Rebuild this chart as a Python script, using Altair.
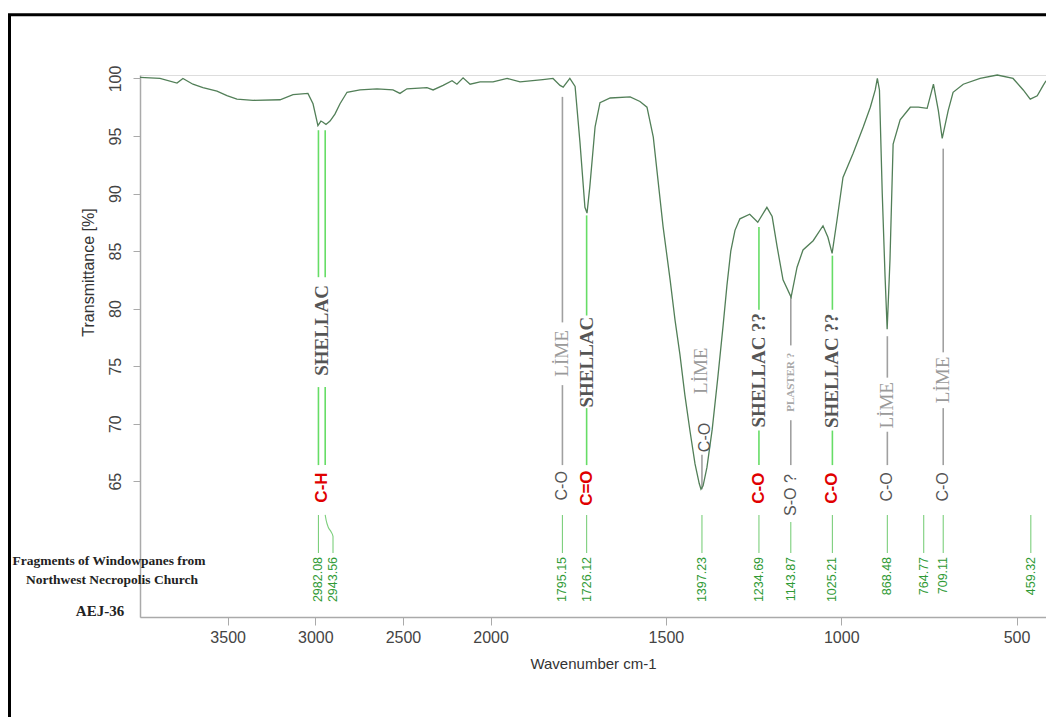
import altair as alt
import pandas as pd

# ---------------- spectrum (wavenumber cm-1, transmittance %) ----------------
wn = [4000, 3886, 3789, 3755, 3698, 3641, 3561, 3504, 3447, 3355, 3201, 3127,
      3042, 3013, 2985, 2968, 2956, 2939, 2916, 2888, 2859, 2819, 2745, 2648,
      2557, 2517, 2477, 2363, 2328, 2271, 2220, 2192, 2157, 2117, 2060, 1993,
      1953, 1916, 1851, 1822, 1802, 1793, 1774, 1759, 1745, 1731, 1725, 1717,
      1702, 1688, 1659, 1602, 1574, 1554, 1536, 1508, 1488, 1474, 1460, 1446,
      1431, 1417, 1405, 1400, 1394, 1383, 1368, 1352, 1337, 1326, 1315, 1303,
      1289, 1261, 1238, 1212, 1197, 1183, 1166, 1143, 1126, 1109, 1080, 1052,
      1038, 1026, 1012, 995, 966, 937, 917, 903, 897, 891, 883, 875, 869,
      861, 852, 832, 803, 780, 755, 737, 723, 712, 695, 681, 652, 604, 555,
      510, 481, 461, 441, 424, 416]
tr = [100.1, 100.0, 99.6, 100.0, 99.5, 99.2, 98.9, 98.5, 98.2, 98.1, 98.15, 98.6,
      98.7, 97.8, 95.9, 96.3, 96.2, 96.0, 96.3, 96.9, 97.8, 98.8, 99.0, 99.1,
      99.0, 98.7, 99.1, 99.2, 99.0, 99.4, 99.8, 99.5, 100.05, 99.5, 99.7, 99.7,
      100.0, 99.7, 99.9, 100.0, 99.4, 99.25, 100.0, 99.3, 94.4, 88.8, 88.3, 90.6,
      95.8, 97.9, 98.3, 98.4, 98.0, 97.5, 94.9, 87.1, 82.5, 79.0, 76.0, 72.5,
      69.3, 66.5, 64.8, 64.3, 64.6, 66.2, 69.5, 74.0, 78.5, 82.0, 85.0, 86.8,
      87.8, 88.2, 87.5, 88.8, 88.0, 85.4, 82.5, 81.0, 83.6, 85.1, 85.9, 87.2,
      86.2, 84.8, 87.7, 91.4, 93.5, 95.8, 97.5, 99.0, 100.0, 99.0, 90.0, 82.8, 78.2,
      84.2, 94.3, 96.4, 97.5, 97.5, 97.4, 99.5, 97.2, 94.8, 97.2, 98.8, 99.5, 100.0, 100.3,
      100.0, 99.0, 98.2, 98.5, 99.4, 99.8]

# ---------------- peak annotations ----------------
peak_text = ["2982.08", "2943.56", "1795.15", "1726.12", "1397.23", "1234.69",
             "1143.87", "1025.21", "868.48", "764.77", "709.11", "459.32"]
peak_text_wn = [2982.08, 2899.0, 1795.15, 1726.12, 1397.23, 1234.69, 1143.87,
                1025.21, 868.48, 764.77, 709.11, 459.32]

# upper connector segments (wavenumber, from %T, to %T)
green_seg_wn = [2982.08, 2982.08, 2943.56, 2943.56, 1726.12, 1726.12,
                1234.69, 1234.69, 1025.21, 1025.21]
green_seg_t1 = [95.5, 73.18, 95.5, 73.18, 88.1, 71.35, 87.1, 69.4, 84.6, 69.4]
green_seg_t2 = [82.73, 66.4, 82.73, 66.4, 79.4, 66.4, 79.9, 66.4, 79.9, 66.4]

gray_seg_wn = [1795.15, 1795.15, 1143.87, 1143.87, 868.48, 868.48, 709.11, 709.11, 1397.23]
gray_seg_t1 = [98.4, 73.35, 81.2, 70.3, 77.6, 69.3, 93.9, 71.35, 67.3]
gray_seg_t2 = [78.8, 66.4, 76.8, 66.4, 74.0, 66.4, 76.2, 66.4, 64.3]

# lower connector segments
low_wn = [2982.08, 1795.15, 1726.12, 1397.23, 1234.69, 1143.87, 1025.21,
          868.48, 764.77, 709.11, 459.32]
low_t1 = [62.07, 62.07, 62.07, 62.07, 62.07, 61.46, 62.07, 62.07, 62.07, 62.07, 62.07]
low_t2 = [58.77] * 11

# bent leader for 2943.56
bend_wn = [2943.56, 2938.0, 2926.0, 2910.0, 2899.0, 2899.0]
bend_t = [62.07, 61.6, 61.0, 60.6, 60.2, 58.77]

# material labels
shellac_text = ["SHELLAC", "SHELLAC", "SHELLAC ??", "SHELLAC ??"]
shellac_wn = [2962.0, 1726.12, 1234.69, 1025.21]
shellac_t = [78.1, 75.35, 74.65, 74.6]

lime_text = ["LİME", "LİME", "LİME", "LİME"]
lime_wn = [1795.15, 1400.0, 868.48, 709.11]
lime_t = [76.1, 74.6, 71.6, 73.8]

plaster_text = ["PLASTER ?"]
plaster_wn = [1143.87]
plaster_t = [73.6]

# functional group labels
red_text = ["C-H", "C=O", "C-O", "C-O"]
red_wn = [2962.0, 1726.12, 1234.69, 1025.21]
red_t = [64.45, 64.4, 64.4, 64.4]

gray_text = ["C-O", "C-O", "S-O ?", "C-O", "C-O"]
gray_wn = [1795.15, 1389.0, 1143.87, 868.48, 709.11]
gray_t = [64.6, 68.8, 63.8, 64.5, 64.5]

sample_lines = ["Fragments of Windowpanes from", "Northwest Necropolis Church", "AEJ-36"]

x_ticks = [3500, 3000, 2500, 2000, 1500, 1000, 500]
y_ticks = [65, 70, 75, 80, 85, 90, 95, 100]

# ---------------- scales / encodings ----------------
xscale = alt.Scale(domain=[4000, 2000, 416], range=[0, 350.6, 906], nice=False, zero=False)
yscale = alt.Scale(domain=[53.2, 100.3], nice=False, zero=False)

xaxis = alt.Axis(values=x_ticks, title="Wavenumber cm-1", grid=False, labelFont="Liberation Sans",
                 labelFontSize=16, labelColor="#444444", tickColor="#aaaaaa", tickSize=8,
                 domainColor="#aaaaaa", domainWidth=1.5, labelPadding=4, titleFont="Liberation Sans",
                 titleFontSize=15, titleFontWeight="normal", titleColor="#333333",
                 titleY=46, titleBaseline="middle", format="d")
yaxis = alt.Axis(values=y_ticks, title="Transmittance [%]", grid=False, labelFont="Liberation Sans",
                 labelFontSize=16, labelColor="#444444", labelAngle=270, labelAlign="center",
                 labelBaseline="bottom", tickColor="#aaaaaa", tickSize=7, labelPadding=10,
                 domainColor="#aaaaaa", domainWidth=1.5, titleFont="Liberation Sans",
                 titleFontSize=16, titleFontWeight="normal", titleColor="#333333",
                 titleAngle=270, titleX=-52, titleY=197, titleAlign="center",
                 titleBaseline="middle", format="d")

X = alt.X("wn:Q", scale=xscale, axis=xaxis)
Y = alt.Y("T:Q", scale=yscale, axis=yaxis)

spec = pd.DataFrame({"wn": wn, "T": tr})
line = alt.Chart(spec).mark_line(color="#527f58", strokeWidth=1.3).encode(x=X, y=Y, order="idx:Q") \
    .transform_window(idx="row_number()")

gdf = pd.DataFrame({"wn": green_seg_wn, "T": green_seg_t1, "T2": green_seg_t2})
green_rules = alt.Chart(gdf).mark_rule(color="#66dd66", strokeWidth=1.6).encode(x=X, y=Y, y2="T2:Q")

ydf = pd.DataFrame({"wn": gray_seg_wn, "T": gray_seg_t1, "T2": gray_seg_t2})
gray_rules = alt.Chart(ydf).mark_rule(color="#a0a0a0", strokeWidth=1.6).encode(x=X, y=Y, y2="T2:Q")

ldf = pd.DataFrame({"wn": low_wn, "T": low_t1, "T2": low_t2})
low_rules = alt.Chart(ldf).mark_rule(color="#7ccf7c", strokeWidth=1.1).encode(x=X, y=Y, y2="T2:Q")

bdf = pd.DataFrame({"wn": bend_wn, "T": bend_t, "i": list(range(len(bend_wn)))})
bend = alt.Chart(bdf).mark_line(color="#7ccf7c", strokeWidth=1.1, interpolate="monotone").encode(
    x=X, y=Y, order="i:Q")

ndf = pd.DataFrame({"wn": peak_text_wn, "T": [58.42] * len(peak_text), "lab": peak_text})
num_text = alt.Chart(ndf).mark_text(angle=270, align="right", baseline="middle",
                                    font="Liberation Sans", fontSize=12.5, color="#2f9a35").encode(
    x=X, y=Y, text="lab:N")

sdf = pd.DataFrame({"wn": shellac_wn, "T": shellac_t, "lab": shellac_text})
shellac = alt.Chart(sdf).mark_text(angle=270, align="center", baseline="middle", font="Liberation Serif",
                                   fontSize=19, fontWeight="bold", color="#555555").encode(
    x=X, y=Y, text="lab:N")

lmdf = pd.DataFrame({"wn": lime_wn, "T": lime_t, "lab": lime_text})
lime = alt.Chart(lmdf).mark_text(angle=270, align="center", baseline="middle", font="Liberation Serif",
                                 fontSize=19, color="#9a9a9a").encode(x=X, y=Y, text="lab:N")

pdf_ = pd.DataFrame({"wn": plaster_wn, "T": plaster_t, "lab": plaster_text})
plaster = alt.Chart(pdf_).mark_text(angle=270, align="center", baseline="middle", font="Liberation Serif",
                                    fontSize=11, fontWeight="bold", color="#a8a8a8").encode(
    x=X, y=Y, text="lab:N")

rdf = pd.DataFrame({"wn": red_wn, "T": red_t, "lab": red_text})
red = alt.Chart(rdf).mark_text(angle=270, align="center", baseline="middle", font="Liberation Sans",
                               fontSize=17, fontWeight="bold", color="#e00000").encode(
    x=X, y=Y, text="lab:N")

gtdf = pd.DataFrame({"wn": gray_wn, "T": gray_t, "lab": gray_text})
grayt = alt.Chart(gtdf).mark_text(angle=270, align="center", baseline="middle", font="Liberation Sans",
                                  fontSize=16, color="#555555").encode(x=X, y=Y, text="lab:N")

one = pd.DataFrame({"a": [0]})
frame = alt.Chart(one).mark_rect(filled=False, stroke="#000000", strokeWidth=3).encode(
    x=alt.value(-130.5), x2=alt.value(960), y=alt.value(-60.3), y2=alt.value(720))

s1 = alt.Chart(one).mark_text(text=sample_lines[0], font="Liberation Serif", fontSize=13.5,
                              fontWeight="bold", color="#222222").encode(
    x=alt.value(-31), y=alt.value(486))
s2 = alt.Chart(one).mark_text(text=sample_lines[1], font="Liberation Serif", fontSize=13.5,
                              fontWeight="bold", color="#222222").encode(
    x=alt.value(-28), y=alt.value(505))
s3 = alt.Chart(one).mark_text(text=sample_lines[2], font="Liberation Serif", fontSize=15,
                              fontWeight="bold", color="#222222").encode(
    x=alt.value(-40), y=alt.value(536))

chart = alt.layer(
    frame, green_rules, gray_rules, low_rules, bend, line, shellac, lime, plaster, red, grayt,
    num_text, s1, s2, s3
).properties(
    width=906, height=542,
    autosize=alt.AutoSizeParams(type="none"),
    padding={"left": 132, "top": 67, "right": 0, "bottom": 100},
).configure_view(stroke="#c4c4c4", strokeWidth=2).configure(background="white")

chart.save("out.html", embed_options={"renderer": "svg", "actions": False})
